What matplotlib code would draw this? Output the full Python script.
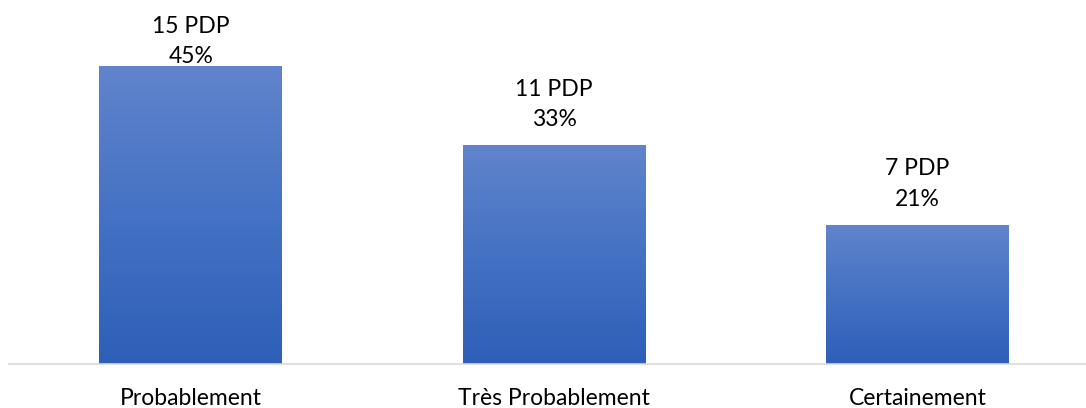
import matplotlib.pyplot as plt
import numpy as np
from matplotlib.colors import LinearSegmentedColormap

categories = ['Probablement', 'Très Probablement', 'Certainement']
counts = [15, 11, 7]
percents = ['45%', '33%', '21%']

plt.rcParams['font.family'] = ['Lato', 'DejaVu Sans']

fig = plt.figure(figsize=(10.86, 4.08), dpi=100)
ax = fig.add_axes([9 / 1086, 44 / 408, 1077 / 1086, 364 / 408])

ymax = 18.32
x = np.arange(len(categories))
bars = ax.bar(x, counts, width=0.503, color='none', edgecolor='none')

# vertical gradient like the Office fill
cmap = LinearSegmentedColormap.from_list('grad', ['#2E5FB7', '#4472C4', '#6184CC'])
grad = np.linspace(0, 1, 256).reshape(-1, 1)
for b in bars:
    x0, w, h = b.get_x(), b.get_width(), b.get_height()
    im = ax.imshow(grad, cmap=cmap, origin='lower', aspect='auto',
                   extent=[x0, x0 + w, 0, h], zorder=2)
    im.set_clip_path(b)

for xi, c, p in zip(x, counts, percents):
    ty = min(c + 2.06, ymax - 2.09)
    ax.text(xi, ty, f'{c} PDP\n{p}', ha='center', va='center',
            fontsize=16.5, color='#000000', linespacing=1.55, zorder=3)

ax.set_xlim(-0.5, 2.464)
ax.set_ylim(0, ymax)
ax.set_xticks(x)
ax.set_xticklabels(categories, fontsize=16.5)
ax.tick_params(axis='x', length=0, pad=17)
ax.set_yticks([])
for s in ['top', 'right', 'left']:
    ax.spines[s].set_visible(False)
ax.spines['bottom'].set_color('#D9D9D9')
ax.spines['bottom'].set_linewidth(1.2)

fig.savefig('out.png', dpi=100)
